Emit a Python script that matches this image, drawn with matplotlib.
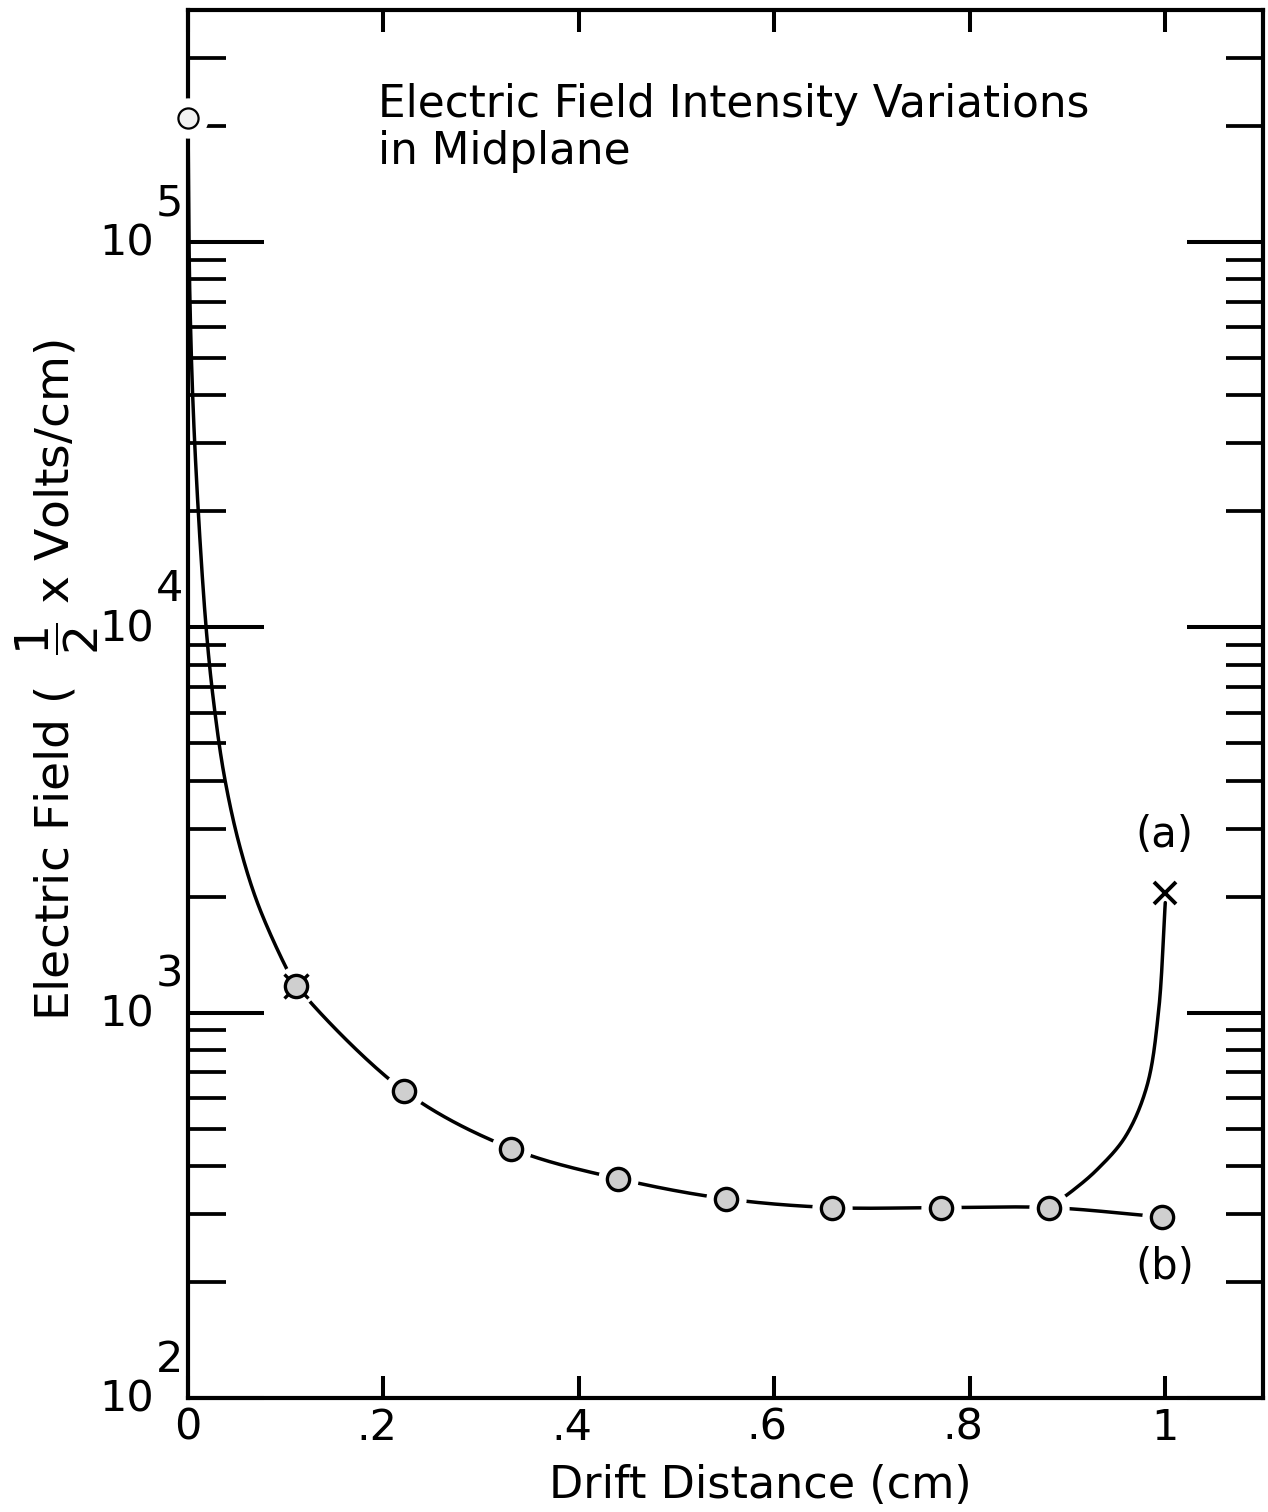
import numpy as np
import matplotlib
matplotlib.use("Agg")
import matplotlib.pyplot as plt
from matplotlib.ticker import FixedLocator, NullFormatter

# ---------------- data ----------------
marker_x = [0.0, 0.111, 0.221, 0.331, 0.440, 0.550, 0.659, 0.770, 0.881, 0.997]
marker_y = [2.1e5, 1175, 627, 444, 371, 329, 312, 312, 312, 295]

# digitized leading part of curve (b) (steep rise near x = 0)
curve_b_lead_x = [0.0, 0.002, 0.007, 0.0185, 0.0276, 0.038, 0.053, 0.072, 0.101]
curve_b_lead_y = [2.1e5, 7.0e4, 2.95e4, 1.0e4, 6000, 4000, 2700, 1900, 1300]

# curve (a): branches off at x ~ 0.88 and rises to the cross
curve_a_x = [0.881, 0.905, 0.930, 0.959, 0.981, 0.993, 1.0]
curve_a_y = [312, 345, 391, 476, 642, 1000, 1930]

cross_x = [1.0]
cross_y = [2050]

x_ticks = [0, 0.2, 0.4, 0.6, 0.8, 1.0]
x_tick_labels = ["0", ".2", ".4", ".6", ".8", "1"]
y_decades = [2, 3, 4, 5]

title_lines = ["Electric Field Intensity Variations", "in Midplane"]
x_label = "Drift Distance (cm)"
y_label = r"Electric Field (  $\dfrac{1}{2}$ x Volts/cm)"

# ---------------- figure ----------------
W, H = 1268, 1512
plt.rcParams["font.family"] = ["DejaVu Sans"]
plt.rcParams["mathtext.fontset"] = "dejavusans"
fig = plt.figure(figsize=(W / 100, H / 100), dpi=100)
L, R, T, B = 188, 1263, 10, 1398
ax = fig.add_axes([L / W, 1 - B / H, (R - L) / W, (B - T) / H])
ax.set_yscale("log")
ax.set_xlim(0, 1.1)
ax.set_ylim(100, 4e5)

for s in ax.spines.values():
    s.set_linewidth(3.0)
    s.set_color("black")

ax.xaxis.set_major_locator(FixedLocator(x_ticks))
ax.xaxis.set_major_formatter(NullFormatter())
ax.yaxis.set_major_locator(FixedLocator([10.0 ** d for d in y_decades]))
minor = [m * 10.0 ** d for d in [2, 3, 4, 5] for m in range(2, 10) if m * 10.0 ** d < 4e5]
ax.yaxis.set_minor_locator(FixedLocator(minor))
ax.yaxis.set_major_formatter(NullFormatter())
ax.yaxis.set_minor_formatter(NullFormatter())
ax.xaxis.set_minor_locator(FixedLocator([]))
ax.tick_params(axis="y", which="major", direction="in", length=55, width=2.9,
               left=True, right=True, labelleft=False)
ax.tick_params(axis="y", which="minor", direction="in", length=27, width=2.7,
               left=True, right=True)
ax.tick_params(axis="x", which="major", direction="in", length=16, width=2.9,
               top=True, bottom=True, labelbottom=False)

fig.canvas.draw()


def catmull_rom(xs, ys, n=40):
    """centripetal Catmull-Rom through the given data points, done in display space"""
    P = ax.transData.transform(np.column_stack([xs, ys]))
    P = np.vstack([2 * P[0] - P[1], P, 2 * P[-1] - P[-2]])
    out = []
    for i in range(1, len(P) - 2):
        p0, p1, p2, p3 = P[i - 1], P[i], P[i + 1], P[i + 2]
        def tj(ti, a, b):
            return ti + max(np.linalg.norm(b - a), 1e-6) ** 0.5
        t0 = 0.0
        t1 = tj(t0, p0, p1)
        t2 = tj(t1, p1, p2)
        t3 = tj(t2, p2, p3)
        t = np.linspace(t1, t2, n)[:, None]
        A1 = (t1 - t) / (t1 - t0) * p0 + (t - t0) / (t1 - t0) * p1
        A2 = (t2 - t) / (t2 - t1) * p1 + (t - t1) / (t2 - t1) * p2
        A3 = (t3 - t) / (t3 - t2) * p2 + (t - t2) / (t3 - t2) * p3
        B1 = (t2 - t) / (t2 - t0) * A1 + (t - t0) / (t2 - t0) * A2
        B2 = (t3 - t) / (t3 - t1) * A2 + (t - t1) / (t3 - t1) * A3
        C = (t2 - t) / (t2 - t1) * B1 + (t - t1) / (t2 - t1) * B2
        out.append(C)
    pts = ax.transData.inverted().transform(np.vstack(out))
    return pts[:, 0], pts[:, 1]


# curve (b)
bx = list(curve_b_lead_x) + list(marker_x[1:])
by = list(curve_b_lead_y) + list(marker_y[1:])
cx, cy = catmull_rom(bx, by)
ax.plot(cx, cy, color="black", lw=2.5, zorder=2, solid_capstyle="round")
# curve (a)
ax_, ay_ = catmull_rom(curve_a_x, curve_a_y)
ax.plot(ax_, ay_, color="black", lw=2.5, zorder=2, solid_capstyle="round")

# white halos (gaps in the line around the points)
ax.plot(marker_x, marker_y, "o", ms=29, mfc="white", mec="none", zorder=5, clip_on=False)
# small cross behind the point at x ~ 0.11
ax.plot(marker_x[1:2], marker_y[1:2], "x", ms=17, mew=2.4, color="black", zorder=6)
# data points
ax.plot(marker_x[1:], marker_y[1:], "o", ms=16, mfc="#cfcfcf", mec="black", mew=2.4,
        zorder=7, clip_on=False)
ax.plot(marker_x[:1], marker_y[:1], "o", ms=14.5, mfc="#f2f2f2", mec="black", mew=1.6,
        zorder=7, clip_on=False)
# cross of curve (a)
ax.plot(cross_x, cross_y, "x", ms=16, mew=2.8, color="black", zorder=7)

# ---------------- text ----------------
FS = 31
for xt, lab in zip(x_ticks, x_tick_labels):
    dx = 0 if lab in ("0", "1") else -7
    ax.annotate(lab, xy=(xt, 0), xycoords=("data", "axes fraction"),
                xytext=(dx, -30), textcoords="offset pixels",
                ha="center", va="center", fontsize=FS)

for d in y_decades:
    ax.annotate("10", xy=(0, 10.0 ** d), xycoords=("axes fraction", "data"),
                xytext=(-34, -2), textcoords="offset pixels",
                ha="right", va="center", fontsize=FS)
    ax.annotate(str(d), xy=(0, 10.0 ** d), xycoords=("axes fraction", "data"),
                xytext=(-32, 26), textcoords="offset pixels",
                ha="left", va="baseline", fontsize=FS)

fig.text(378 / W, 1 - 117 / H, title_lines[0], fontsize=31.5, ha="left", va="baseline")
fig.text(378 / W, 1 - 164 / H, title_lines[1], fontsize=31.5, ha="left", va="baseline")
fig.text(760 / W, 1 - 1485 / H, x_label, fontsize=32, ha="center", va="center")
fig.text(57 / W, 1 - 680 / H, y_label, fontsize=34, ha="center", va="center", rotation=90)
fig.text(1164 / W, 1 - 835 / H, "(a)", fontsize=30, ha="center", va="center")
fig.text(1165 / W, 1 - 1267 / H, "(b)", fontsize=30, ha="center", va="center")

fig.savefig("out.png", dpi=100)
